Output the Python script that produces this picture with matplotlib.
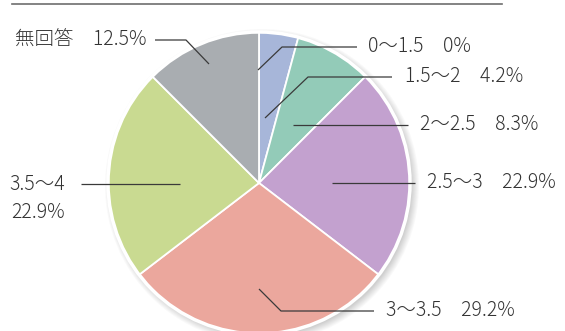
import matplotlib
matplotlib.use('Agg')
import matplotlib.pyplot as plt
from matplotlib.patches import Circle

plt.rcParams['font.family'] = ['Noto Sans CJK JP', 'DejaVu Sans']

# data
categories = ['0〜1.5', '1.5〜2', '2〜2.5', '2.5〜3', '3〜3.5', '3.5〜4', '無回答']
values = [0, 4.2, 8.3, 22.9, 29.2, 22.9, 12.5]
colors = ['#a7b6d9', '#a7b6d9', '#93cbb8', '#c3a1cf', '#eba79d', '#c9da91', '#a9adb1']

W, H = 565, 331
fig = plt.figure(figsize=(W / 100, H / 100), dpi=100)
ax = fig.add_axes([0, 0, 1, 1])

cx, cy, r = 259, H - 183, 151

# soft shadow on the lower right
for i in range(8):
    ax.add_patch(Circle((cx + 3, cy - 3), r + 6 - i, color='black',
                        alpha=0.025, lw=0, zorder=0))

ax.pie(values, colors=colors, startangle=90, counterclock=False,
       center=(cx, cy), radius=r,
       wedgeprops=dict(edgecolor='white', linewidth=1.3))
ax.add_patch(Circle((cx, cy), r, fill=False, ec='white', lw=2.5, zorder=5))

ax.set_xlim(0, W)
ax.set_ylim(0, H)
ax.set_aspect('equal')
ax.axis('off')

# top rule
ax.plot([12, 502], [H - 4, H - 4], color='#6e6e6e', lw=1.2, clip_on=False)

# leader lines (pixel layout, y measured from top) and label positions
leaders = [
    [(258, 70), (282, 47), (357, 47)],
    [(265, 118), (308, 77), (392, 77)],
    [(293, 125), (408, 125)],
    [(332, 183), (415, 183)],
    [(259, 289), (281, 311), (374, 311)],
    [(180, 184), (81, 184)],
    [(209, 64), (186, 40), (155, 40)],
]
text_pos = [(368, 47), (405, 77), (420, 125), (427, 183), (386, 311), (9, 184), (15, 40)]
fs = 14
tcol = '#333333'

for i, (cat, v) in enumerate(zip(categories, values)):
    pts = leaders[i]
    ax.plot([p[0] for p in pts], [H - p[1] for p in pts], color='#3a3a3a', lw=0.9,
            zorder=6, solid_capstyle='butt')
    tx, ty = text_pos[i]
    if cat == '3.5〜4':
        ax.text(tx, H - ty, cat, fontsize=fs, color=tcol, va='center', ha='left',
                fontweight='light')
        ax.text(tx + 2, H - ty - 29, f'{v:g}%', fontsize=fs, color=tcol,
                va='center', ha='left', fontweight='light')
    else:
        ax.text(tx, H - ty, f'{cat}\u3000{v:g}%', fontsize=fs, color=tcol,
                va='center', ha='left', fontweight='light')

fig.savefig('out.png', dpi=100)
